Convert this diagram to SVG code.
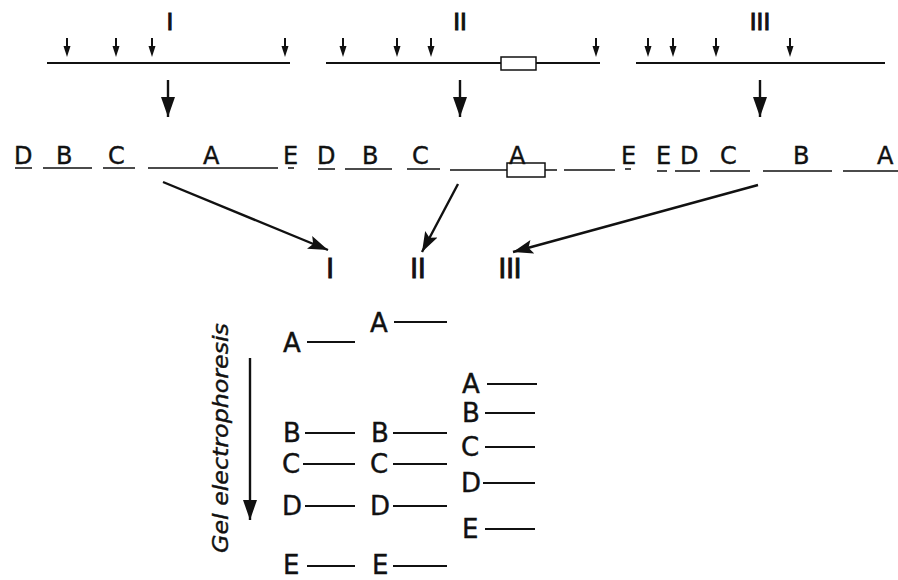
<svg xmlns="http://www.w3.org/2000/svg" width="898" height="580" viewBox="0 0 898 580">
<style>
text{font-family:"DejaVu Sans","Liberation Sans",Arial,sans-serif;fill:#111;stroke:#111;stroke-width:0.4}
.num{font-size:23px;text-anchor:middle;stroke-width:1}
.num2{font-size:26px;text-anchor:middle;stroke-width:1}
.frag{font-size:24px}
.band{font-size:26px}
.ln{stroke:#111;stroke-width:2;fill:none}
.ul{stroke:#111;stroke-width:1.6;fill:none}
.conn{stroke:#111;stroke-width:2.4;fill:none}
</style>
<defs>
<g id="tick"><line x1="0" y1="38" x2="0" y2="49" stroke="#111" stroke-width="2"/><polygon points="-3.5,46 3.5,46 0,57" fill="#111"/></g>
<marker id="ah" markerUnits="userSpaceOnUse" markerWidth="22" markerHeight="16" viewBox="0 0 22 16" refX="20" refY="8" orient="auto"><polygon points="0,1 20,8 0,15 4,8" fill="#111"/></marker>
<marker id="ah2" markerUnits="userSpaceOnUse" markerWidth="22" markerHeight="16" viewBox="0 0 22 16" refX="20" refY="8" orient="auto"><polygon points="0,1 20,8 0,15" fill="#111"/></marker>
</defs>
<rect width="898" height="580" fill="#fff"/>

<g id="dna-I">
<text class="num" x="170" y="30">I</text>
<line class="ln" x1="47" y1="63" x2="290" y2="63"/>
<use href="#tick" x="67"/><use href="#tick" x="116"/><use href="#tick" x="152"/><use href="#tick" x="285"/>
</g>
<g id="dna-II">
<text class="num" x="460" y="30">II</text>
<line class="ln" x1="326" y1="63" x2="600" y2="63"/>
<rect x="501" y="57" width="35" height="13" fill="#fff" stroke="#111" stroke-width="1.5"/>
<use href="#tick" x="343"/><use href="#tick" x="397"/><use href="#tick" x="431"/><use href="#tick" x="596"/>
</g>
<g id="dna-III">
<text class="num" x="760" y="30">III</text>
<line class="ln" x1="636" y1="63" x2="885" y2="63"/>
<use href="#tick" x="648"/><use href="#tick" x="673"/><use href="#tick" x="716"/><use href="#tick" x="790"/>
</g>

<g id="frag-I">
<text class="frag" x="14" y="164">D</text>
<text class="frag" x="56" y="164">B</text>
<text class="frag" x="108" y="164">C</text>
<text class="frag" x="203" y="164">A</text>
<text class="frag" x="283" y="164">E</text>
<path class="ul" d="M15 168H32M43 168H92M103 168H135M148 168H278M288 168H294"/>
</g>
<g id="frag-II">
<text class="frag" x="317" y="164">D</text>
<text class="frag" x="362" y="164">B</text>
<text class="frag" x="412" y="164">C</text>
<text class="frag" x="509" y="164">A</text>
<text class="frag" x="621" y="164">E</text>
<path class="ul" d="M318 169H335M345 169H392M407 169H440M450 170H507M545 170H557M564 170H615M625 169H631"/>
<rect x="507" y="163" width="38" height="14" fill="none" stroke="#111" stroke-width="1.5"/>
</g>
<g id="frag-III">
<text class="frag" x="656" y="164">E</text>
<text class="frag" x="680" y="164">D</text>
<text class="frag" x="720" y="164">C</text>
<text class="frag" x="793" y="164">B</text>
<text class="frag" x="877" y="164">A</text>
<path class="ul" d="M657 171H667M675 171H700M710 171H750M763 171H832M843 171H898"/>
</g>

<g id="lanes">
<text class="num2" x="330" y="278">I</text>
<text class="num2" x="418" y="278">II</text>
<text class="num2" x="510" y="278">III</text>
</g>

<g id="gel-label">
<text transform="translate(228,438) rotate(-90)" text-anchor="middle" font-style="italic" font-size="22" textLength="230" lengthAdjust="spacingAndGlyphs">Gel electrophoresis</text>
</g>

<g id="lane-I">
<text class="band" x="283" y="352">A</text>
<text class="band" x="283" y="442">B</text>
<text class="band" x="282" y="473">C</text>
<text class="band" x="282" y="515">D</text>
<text class="band" x="283" y="574">E</text>
<path class="ln" d="M307 342H355M305 433H355M303 464H355M305 506H355M307 566H355"/>
</g>
<g id="lane-II">
<text class="band" x="370" y="332">A</text>
<text class="band" x="371" y="442">B</text>
<text class="band" x="370" y="473">C</text>
<text class="band" x="370" y="515">D</text>
<text class="band" x="372" y="574">E</text>
<path class="ln" d="M394 322H447M393 433H447M393 464H447M393 506H447M393 566H447"/>
</g>
<g id="lane-III">
<text class="band" x="462" y="393">A</text>
<text class="band" x="462" y="422">B</text>
<text class="band" x="461" y="456">C</text>
<text class="band" x="461" y="492">D</text>
<text class="band" x="462" y="538">E</text>
<path class="ln" d="M487 384H537M485 413H535M485 447H535M483 483H535M485 529H535"/>
</g>

<g id="connectors">
<line class="conn" x1="168" y1="80" x2="168" y2="117" marker-end="url(#ah2)"/>
<line class="conn" x1="460" y1="80" x2="460" y2="117" marker-end="url(#ah2)"/>
<line class="conn" x1="760" y1="80" x2="760" y2="117" marker-end="url(#ah2)"/>
<line class="conn" x1="163" y1="182" x2="328" y2="250" marker-end="url(#ah)"/>
<line class="conn" x1="458" y1="184" x2="422" y2="252" marker-end="url(#ah)"/>
<line class="conn" x1="758" y1="185" x2="513" y2="252" marker-end="url(#ah)"/>
<line class="conn" x1="250" y1="358" x2="250" y2="520" marker-end="url(#ah2)"/>
</g>
</svg>
